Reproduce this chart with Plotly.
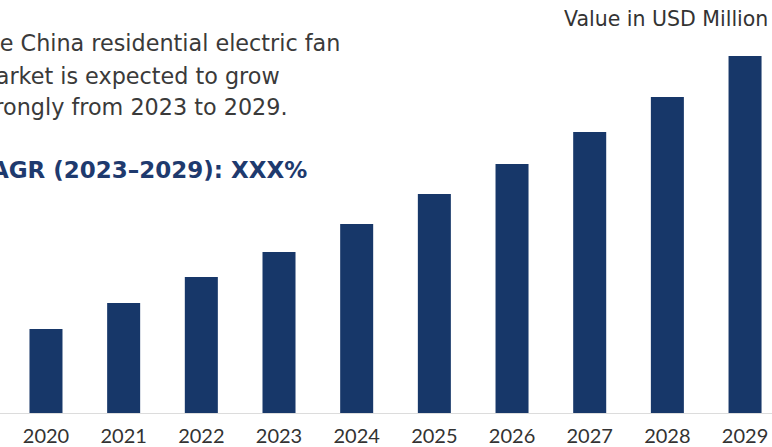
import plotly.graph_objects as go

years = ["2020", "2021", "2022", "2023", "2024", "2025", "2026", "2027", "2028", "2029"]
values = [84, 110, 136, 161, 189, 219, 249, 281, 316, 357]

W, H = 772, 447
BOTTOM = 34
PLOT_H = H - BOTTOM

BAR_COLOR = "#173769"
TEXT_COLOR = "#3a3a3a"
CAGR_COLOR = "#1e3a6e"
FONT = "Lato, 'Open Sans', sans-serif"
WIDE = "'DejaVu Sans', sans-serif"

fig = go.Figure(go.Bar(x=years, y=values, marker_color=BAR_COLOR, marker_line_width=0))

def py(px):
    return (PLOT_H - px) / PLOT_H

lines = [
    ("The China residential electric fan", 43, -31, 22.3, TEXT_COLOR, False),
    ("market is expected to grow", 76, -28, 22.3, TEXT_COLOR, False),
    ("strongly from 2023 to 2029.", 107, -28, 22.3, TEXT_COLOR, False),
    ("CAGR (2023–2029): XXX%", 170, -28, 23, CAGR_COLOR, True),
]
annotations = []
for txt, ypx, xpx, size, col, bold in lines:
    annotations.append(dict(
        text=f"<b>{txt}</b>" if bold else txt,
        xref="paper", yref="paper", x=xpx / W, y=py(ypx),
        xanchor="left", yanchor="middle", showarrow=False,
        font=dict(family=WIDE, size=size, color=col),
    ))
annotations.append(dict(
    text="Value in USD Million", xref="paper", yref="paper",
    x=770 / W, y=py(19), xanchor="right", yanchor="middle", showarrow=False,
    font=dict(family=WIDE, size=20.5, color="#333333"),
))

fig.update_layout(
    width=W, height=H,
    margin=dict(l=0, r=0, t=0, b=BOTTOM),
    plot_bgcolor="white", paper_bgcolor="white",
    bargap=0.575,
    showlegend=False,
    annotations=annotations,
    xaxis=dict(
        type="category", range=[-0.592, 9.347], automargin=False,
        showgrid=False, showline=True, linecolor="#dcdcdc", linewidth=1,
        ticks="", ticklabelstandoff=5,
        tickfont=dict(family=FONT, size=20, color="#333333"),
    ),
    yaxis=dict(range=[0, PLOT_H], visible=False, showgrid=False, automargin=False),
)

fig.write_html("out.html")
